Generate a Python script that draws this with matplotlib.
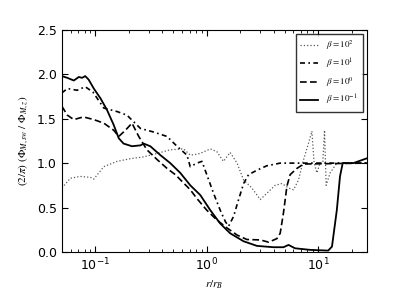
import numpy as np
import matplotlib
matplotlib.use("Agg")
import matplotlib.pyplot as plt

plt.rcParams['mathtext.fontset'] = 'stix'

# === beta = 10^2 (dotted) ===
r_b2 = [0.05, 0.0597, 0.073, 0.09, 0.0967, 0.119, 0.157, 0.206, 0.271, 0.358, 0.47, 0.62,
        0.711, 0.817, 0.874, 1.075, 1.23, 1.41, 1.62, 1.87, 2.14, 2.54, 3.02, 3.46, 4.11,
        4.72, 5.42, 6.0, 6.66, 7.4, 8.17, 8.78, 9.2, 9.74, 10.4, 11.0, 11.4, 11.8, 12.8,
        14.7, 20.0, 27.5]
phi_b2 = [0.72, 0.83, 0.85, 0.84, 0.82, 0.96, 1.02, 1.05, 1.07, 1.11, 1.15, 1.16,
          1.09, 1.10, 1.11, 1.16, 1.13, 1.02, 1.12, 1.00, 0.81, 0.72, 0.59, 0.66, 0.75,
          0.77, 0.72, 0.70, 0.81, 1.04, 1.22, 1.36, 1.00, 0.89, 1.00, 1.00, 1.37, 0.75, 0.89,
          1.00, 1.00, 1.00]

# === beta = 10^1 (dash-dot) ===
r_b1 = [0.05, 0.056, 0.0685, 0.081, 0.095, 0.119, 0.157, 0.192, 0.254, 0.333, 0.44, 0.54,
        0.664, 0.71, 0.817, 0.905, 1.0, 1.15, 1.32, 1.47, 1.57, 1.74, 1.93, 2.14, 2.37,
        2.82, 3.46, 4.56, 10.0, 27.5]
phi_b1 = [1.79, 1.84, 1.82, 1.86, 1.80, 1.62, 1.58, 1.54, 1.39, 1.35, 1.30, 1.19,
          1.09, 0.96, 1.00, 1.02, 0.87, 0.66, 0.47, 0.34, 0.29, 0.40, 0.59, 0.77, 0.87,
          0.92, 0.97, 1.00, 1.00, 1.00]

# === beta = 10^0 (dashed) ===
r_b0 = [0.05, 0.056, 0.064, 0.078, 0.0967, 0.119, 0.146, 0.162, 0.186, 0.213, 0.245, 0.29,
        0.358, 0.44, 0.522, 0.711, 0.817, 1.0, 1.23, 1.52, 1.87, 2.29, 3.02, 3.59, 4.26,
        4.56, 4.88, 5.24, 5.6, 6.44, 7.4, 27.5]
phi_b0 = [1.64, 1.54, 1.49, 1.52, 1.49, 1.45, 1.37, 1.30, 1.37, 1.45, 1.30, 1.15,
          1.04, 0.94, 0.87, 0.70, 0.60, 0.47, 0.36, 0.27, 0.19, 0.14, 0.135, 0.11, 0.15,
          0.21, 0.44, 0.74, 0.87, 0.94, 0.99, 1.00]

# === beta = 10^-1 (solid) ===
r_bm1 = [0.05, 0.056, 0.064, 0.071, 0.076, 0.081, 0.087, 0.0967, 0.111, 0.127, 0.146, 0.162,
         0.179, 0.213, 0.254, 0.271, 0.311, 0.383, 0.47, 0.578, 0.711, 0.875, 1.075, 1.32,
         1.62, 2.14, 2.82, 3.97, 4.88, 5.42, 6.2, 8.5, 12.3, 13.3, 14.7, 15.7, 16.6, 20.7, 27.5]
phi_bm1 = [1.98, 1.96, 1.93, 1.97, 1.96, 1.98, 1.94, 1.84, 1.73, 1.60, 1.43, 1.28,
           1.22, 1.19, 1.20, 1.22, 1.19, 1.09, 1.00, 0.89, 0.75, 0.64, 0.47, 0.32,
           0.21, 0.12, 0.068, 0.053, 0.053, 0.079, 0.041, 0.023, 0.015, 0.06, 0.47, 0.85, 1.00, 1.00, 1.055]

labels = [r'$\beta=10^{2}$', r'$\beta=10^{1}$', r'$\beta=10^{0}$', r'$\beta=10^{-1}$']

fig = plt.figure(figsize=(4.07, 3.05), dpi=100)
ax = fig.add_axes([0.152, 0.174, 0.75, 0.728])

ax.plot(r_b2, phi_b2, color='0.35', linestyle=':', linewidth=0.9, label=labels[0])
ax.plot(r_b1, phi_b1, color='k', linestyle=(0, (3, 2, 1, 2)), linewidth=1.2, label=labels[1])
ax.plot(r_b0, phi_b0, color='k', linestyle=(0, (4, 2)), linewidth=1.2, label=labels[2])
ax.plot(r_bm1, phi_bm1, color='k', linestyle='-', linewidth=1.3, label=labels[3])

ax.set_xscale('log')
ax.set_xlim(0.05, 27.5)
ax.set_ylim(0.0, 2.5)
ax.set_yticks([0.0, 0.5, 1.0, 1.5, 2.0, 2.5])
ax.tick_params(which='both', direction='in', top=True, right=True, labelsize=9)
ax.tick_params(which='major', length=4)
ax.tick_params(which='minor', length=2)

ax.set_xlabel(r'$r/r_B$', fontsize=8)
ax.set_ylabel(r'$(2/\pi)\ (\Phi_{M,sw}\ /\ \Phi_{M,z})$', fontsize=8)

leg = ax.legend(loc='upper right', fontsize=6.5, fancybox=False, handlelength=2.0,
                borderpad=0.5, labelspacing=0.5, handletextpad=0.9,
                borderaxespad=0.5)
leg.get_frame().set_edgecolor('k')

fig.savefig('out.png', dpi=100)
